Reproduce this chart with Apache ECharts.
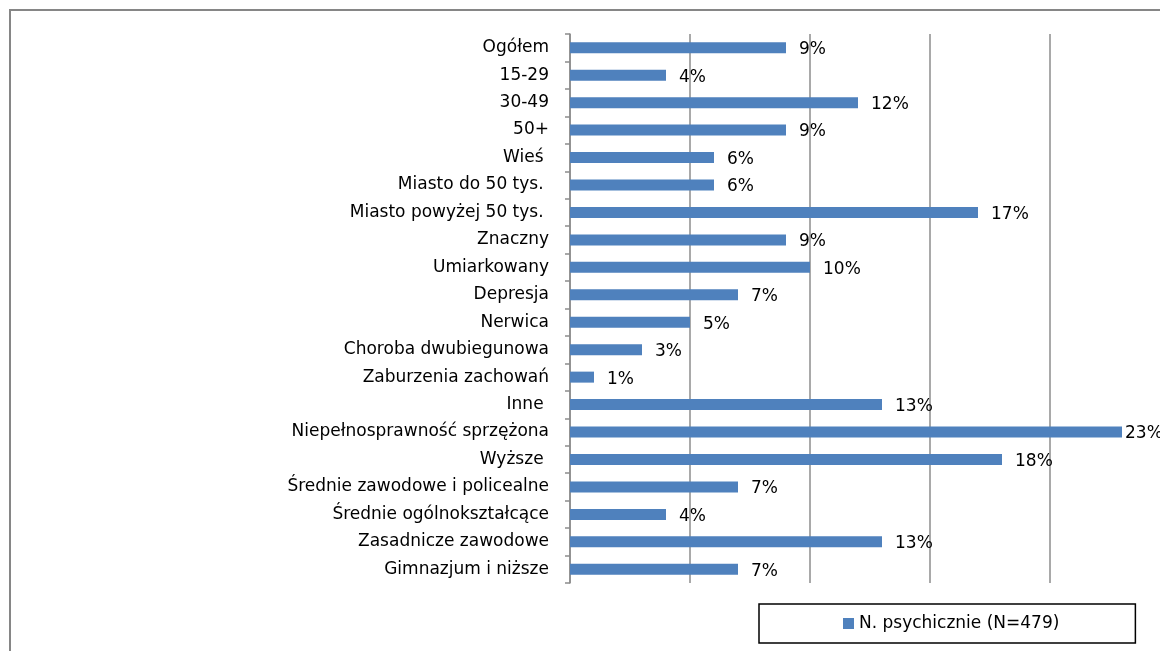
<!DOCTYPE html>
<html>
<head>
<meta charset="utf-8">
<title>N. psychicznie</title>
<script src="https://cdn.jsdelivr.net/npm/echarts@6/dist/echarts.min.js"></script>
<style>
  html, body { margin: 0; padding: 0; background: #fff; }
  #chart { width: 1160px; height: 651px; }
</style>
</head>
<body>
<div id="chart"></div>
<script>
// kategorie od góry do dołu
const categories = [
  'Ogółem', '15-29', '30-49', '50+', 'Wieś ', 'Miasto do 50 tys. ',
  'Miasto powyżej 50 tys. ', 'Znaczny', 'Umiarkowany', 'Depresja', 'Nerwica',
  'Choroba dwubiegunowa', 'Zaburzenia zachowań', 'Inne ',
  'Niepełnosprawność sprzężona', 'Wyższe ', 'Średnie zawodowe i policealne',
  'Średnie ogólnokształcące', 'Zasadnicze zawodowe', 'Gimnazjum i niższe'
]
// odsetki w %
const values = [9, 4, 12, 9, 6, 6, 17, 9, 10, 7, 5, 3, 1, 13, 23, 18, 7, 4, 13, 7]
const seriesName = 'N. psychicznie (N=479)'

const font = 'DejaVu Sans'
const chart = echarts.init(document.getElementById('chart'), null, { renderer: 'canvas' })

var option = {
  animation: false,
  textStyle: { fontFamily: font },
  graphic: [{
    // ramka wykresu (ucięta z prawej i z dołu)
    type: 'rect',
    shape: { x: 10, y: 10, width: 1300, height: 800 },
    style: { fill: null, stroke: '#868686', lineWidth: 2 },
    silent: true
  }],
  legend: {
    data: [seriesName],
    left: 759,
    top: 604,
    padding: [11, 76, 11, 84],
    borderColor: '#000',
    borderWidth: 1.5,
    icon: 'rect',
    itemWidth: 11,
    itemHeight: 11,
    itemGap: 5,
    textStyle: { fontFamily: font, fontSize: 17, color: '#000' }
  },
  grid: {
    left: 570,
    top: 34,
    width: 600,
    height: 549,
    outerBoundsMode: 'none'
  },
  xAxis: {
    type: 'value',
    min: 0,
    max: 25,
    interval: 5,
    axisLine: { show: false },
    axisTick: { show: false },
    axisLabel: { show: false },
    splitLine: { show: true, lineStyle: { color: '#8c8c8c', width: 1.5 } }
  },
  yAxis: {
    type: 'category',
    data: categories,
    inverse: true,
    axisLine: { show: true, lineStyle: { color: '#8c8c8c', width: 1.5 } },
    axisTick: { show: true, length: 5, lineStyle: { color: '#8c8c8c', width: 1.5 } },
    axisLabel: { margin: 21, fontFamily: font, fontSize: 17, color: '#000' }
  },
  series: [{
    name: seriesName,
    type: 'bar',
    barWidth: 11,
    data: values.map(function (v) {
      // etykieta 23% przyklejona do słupka jak w oryginale
      return v === 23 ? { value: v, label: { distance: 3 } } : v
    }),
    itemStyle: { color: '#4F81BD' },
    label: {
      show: true,
      position: 'right',
      distance: 13,
      offset: [0, 2],
      formatter: '{c}%',
      fontFamily: font,
      fontSize: 17,
      color: '#000'
    }
  }]
}

chart.setOption(option)
</script>
</body>
</html>
